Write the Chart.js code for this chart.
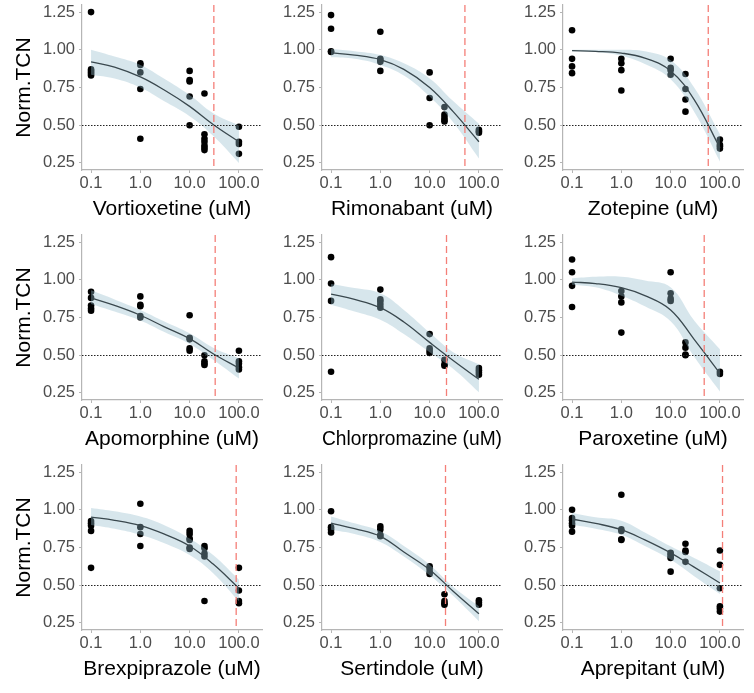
<!DOCTYPE html>
<html>
<head>
<meta charset="utf-8">
<script src="https://cdn.jsdelivr.net/npm/chart.js@4.4.1/dist/chart.umd.min.js"></script>
<style>
  body { margin: 0; background: #fff; width: 754px; height: 693px; position: relative; overflow: hidden; }
  canvas { position: absolute; }
</style>
</head>
<body>
<script>
// Panels
const drugs = ["Vortioxetine", "Rimonabant", "Zotepine", "Apomorphine", "Chlorpromazine",
               "Paroxetine", "Brexpiprazole", "Sertindole", "Aprepitant"];
const ic50 = [31, 52, 58, 33, 22, 48, 88, 21, 113];

// Doses (uM) and the replicate responses at each dose
const doses = [0.1, 1, 10, 20, 100];
const responses = [
  [[1.25, 0.87, 0.86, 0.85, 0.84, 0.83], [0.91, 0.90, 0.85, 0.74, 0.41], [0.86, 0.80, 0.79, 0.69, 0.50], [0.71, 0.44, 0.41, 0.39, 0.365, 0.35, 0.335], [0.49, 0.39, 0.375, 0.31]],
  [[1.23, 1.14, 0.99, 0.985], [1.12, 0.94, 0.93, 0.92, 0.86], [0.85, 0.68, 0.50], [0.62, 0.57, 0.55, 0.535, 0.525], [0.47, 0.46, 0.45]],
  [[1.13, 0.94, 0.89, 0.845], [0.94, 0.91, 0.865, 0.73], [0.94, 0.88, 0.865, 0.835], [0.84, 0.74, 0.67, 0.59], [0.405, 0.37, 0.36, 0.345]],
  [[0.92, 0.88, 0.83, 0.81, 0.795], [0.89, 0.835, 0.825, 0.76, 0.75], [0.765, 0.615, 0.605, 0.545, 0.53], [0.50, 0.46, 0.445, 0.435], [0.53, 0.46, 0.445, 0.42, 0.405]],
  [[1.15, 0.975, 0.86, 0.39], [0.935, 0.87, 0.855, 0.835, 0.815], [0.64, 0.545, 0.53, 0.515], [0.47, 0.44, 0.43], [0.415, 0.40, 0.385, 0.37]],
  [[1.135, 1.05, 0.96, 0.82], [0.925, 0.89, 0.85, 0.65], [1.05, 0.91, 0.875, 0.86], [0.585, 0.55, 0.505, 0.50], [0.39, 0.375]],
  [[0.925, 0.91, 0.895, 0.86, 0.615], [1.04, 0.885, 0.84, 0.76], [0.86, 0.84, 0.81, 0.80, 0.75, 0.74], [0.76, 0.745, 0.71, 0.69, 0.395], [0.615, 0.465, 0.395, 0.38]],
  [[0.99, 0.885, 0.87, 0.85], [0.89, 0.87, 0.835, 0.825], [0.625, 0.61, 0.59, 0.575], [0.44, 0.395, 0.38, 0.37], [0.40, 0.385, 0.37]],
  [[1.0, 0.945, 0.93, 0.91, 0.895, 0.855], [1.1, 0.87, 0.86, 0.805, 0.80], [0.715, 0.705, 0.69, 0.68, 0.59], [0.775, 0.73, 0.72, 0.655], [0.73, 0.635, 0.48, 0.36, 0.345, 0.325]]
];

// Fitted curve and its band, read at these doses
const fitX = [0.1, 0.3, 1, 3, 10, 30, 100];
const fitY = [
  [0.92, 0.885, 0.82, 0.735, 0.625, 0.505, 0.39],
  [0.98, 0.965, 0.935, 0.87, 0.75, 0.59, 0.39],
  [0.995, 0.99, 0.978, 0.945, 0.86, 0.67, 0.35],
  [0.88, 0.83, 0.765, 0.69, 0.61, 0.51, 0.415],
  [0.905, 0.87, 0.815, 0.72, 0.585, 0.465, 0.34],
  [0.985, 0.975, 0.948, 0.895, 0.80, 0.605, 0.38],
  [0.952, 0.93, 0.895, 0.84, 0.76, 0.64, 0.48],
  [0.912, 0.875, 0.824, 0.72, 0.603, 0.46, 0.31],
  [0.939, 0.91, 0.868, 0.80, 0.714, 0.62, 0.515]
];
const fitLow = [
  [0.835, 0.81, 0.75, 0.66, 0.56, 0.43, 0.25],
  [0.95, 0.94, 0.90, 0.83, 0.69, 0.52, 0.28],
  [0.99, 0.985, 0.96, 0.905, 0.805, 0.59, 0.26],
  [0.84, 0.79, 0.73, 0.655, 0.575, 0.47, 0.345],
  [0.835, 0.79, 0.735, 0.64, 0.52, 0.41, 0.254],
  [0.967, 0.95, 0.895, 0.825, 0.725, 0.49, 0.26],
  [0.90, 0.875, 0.835, 0.78, 0.70, 0.58, 0.393],
  [0.868, 0.84, 0.786, 0.69, 0.566, 0.43, 0.261],
  [0.901, 0.875, 0.835, 0.76, 0.67, 0.56, 0.442]
];
const fitHigh = [
  [1.0, 0.955, 0.90, 0.81, 0.70, 0.58, 0.50],
  [1.005, 0.99, 0.965, 0.91, 0.81, 0.66, 0.51],
  [1.0, 1.0, 1.0, 0.99, 0.93, 0.75, 0.44],
  [0.93, 0.87, 0.80, 0.725, 0.645, 0.55, 0.48],
  [0.972, 0.945, 0.91, 0.80, 0.65, 0.52, 0.44],
  [1.01, 1.02, 1.02, 0.995, 0.95, 0.73, 0.54],
  [1.012, 0.99, 0.956, 0.90, 0.81, 0.70, 0.537],
  [0.956, 0.91, 0.857, 0.76, 0.636, 0.49, 0.36],
  [0.978, 0.95, 0.928, 0.85, 0.758, 0.68, 0.592]
];

const xTicks = [0.1, 1, 10, 100];
const yTicks = [0.25, 0.5, 0.75, 1.0, 1.25];
const halfLine = 0.5;

// Layout of the 3x3 grid
const colLeft = [0, 240, 481];
const rowTop = [0, 230, 460];
const W = 272, H = 230;

Chart.defaults.font.family = "'Liberation Sans', Arial, sans-serif";

const refLines = {
  id: 'refLines',
  afterDatasetsDraw(chart, args, opts) {
    const { ctx, chartArea: a, scales: { x, y } } = chart;
    ctx.save();
    const yy = Math.round(y.getPixelForValue(halfLine)) + 0.5;
    ctx.strokeStyle = '#222';
    ctx.lineWidth = 1;
    ctx.setLineDash([1.5, 1.5]);
    ctx.beginPath();
    ctx.moveTo(a.left, yy);
    ctx.lineTo(a.right, yy);
    ctx.stroke();

    const xx = x.getPixelForValue(opts.ic50);
    ctx.strokeStyle = '#f47f78';
    ctx.lineWidth = 1.3;
    ctx.setLineDash([7, 4]);
    ctx.beginPath();
    ctx.moveTo(xx, a.top);
    ctx.lineTo(xx, a.bottom);
    ctx.stroke();
    ctx.restore();
  }
};

function makePanel(i) {
  const r = Math.floor(i / 3), c = i % 3;
  const canvas = document.createElement('canvas');
  canvas.width = W;
  canvas.height = H;
  canvas.style.left = colLeft[c] + 'px';
  canvas.style.top = rowTop[r] + 'px';
  document.body.appendChild(canvas);

  const pts = [];
  doses.forEach((d, k) => responses[i][k].forEach(v => pts.push({ x: d, y: v })));

  new Chart(canvas.getContext('2d'), {
    type: 'scatter',
    data: {
      datasets: [
        {
          type: 'line', data: fitX.map((d, k) => ({ x: d, y: fitY[i][k] })),
          borderColor: '#3a484e', borderWidth: 1.3, pointRadius: 0,
          tension: 0.4, fill: false, order: 1
        },
        {
          type: 'line', data: fitX.map((d, k) => ({ x: d, y: fitHigh[i][k] })),
          borderWidth: 0, pointRadius: 0, tension: 0.4,
          backgroundColor: 'rgba(150,190,204,0.38)', fill: '+1', order: 2
        },
        {
          type: 'line', data: fitX.map((d, k) => ({ x: d, y: fitLow[i][k] })),
          borderWidth: 0, pointRadius: 0, tension: 0.4,
          fill: false, order: 2
        },
        {
          data: pts, backgroundColor: '#000', borderWidth: 0,
          pointRadius: 3.3, order: 3
        }
      ]
    },
    options: {
      responsive: false,
      animation: false,
      events: [],
      layout: { padding: { left: 0, top: 5, right: 10, bottom: 0 } },
      plugins: {
        legend: { display: false },
        tooltip: { enabled: false },
        refLines: { ic50: ic50[i] }
      },
      scales: {
        x: {
          type: 'logarithmic',
          min: 0.0655, max: 294,
          afterBuildTicks: s => { s.ticks = xTicks.map(v => ({ value: v })); },
          afterFit: s => { s.height = 60; s.paddingLeft = 0; s.paddingRight = 0; },
          ticks: {
            autoSkip: false, maxRotation: 0, padding: 1,
            color: '#4d4d4d', font: { size: 16.5 },
            callback: v => Number(v).toFixed(1)
          },
          grid: { drawOnChartArea: false, drawTicks: true, tickLength: 3, color: '#b5b5b5' },
          border: { color: '#b5b5b5', width: 1.2 },
          title: {
            display: true, text: drugs[i] + ' (uM)', color: '#000',
            font: { size: 21 }, padding: { top: 0, bottom: 8 }
          }
        },
        y: {
          min: 0.203, max: 1.297,
          afterBuildTicks: s => { s.ticks = yTicks.map(v => ({ value: v })); },
          afterFit: s => { s.width = 82; s.paddingTop = 0; s.paddingBottom = 0; },
          ticks: {
            autoSkip: false, padding: 4,
            color: '#4d4d4d', font: { size: 16.5 },
            callback: v => Number(v).toFixed(2)
          },
          grid: { drawOnChartArea: false, drawTicks: true, tickLength: 3, color: '#b5b5b5' },
          border: { color: '#b5b5b5', width: 1.2 },
          title: {
            display: c === 0, text: 'Norm.TCN', color: '#000',
            font: { size: 21 }, padding: { top: 12, bottom: 0 }
          }
        }
      }
    },
    plugins: [refLines]
  });
}

for (let i = 0; i < drugs.length; i++) makePanel(i);
</script>
</body>
</html>
